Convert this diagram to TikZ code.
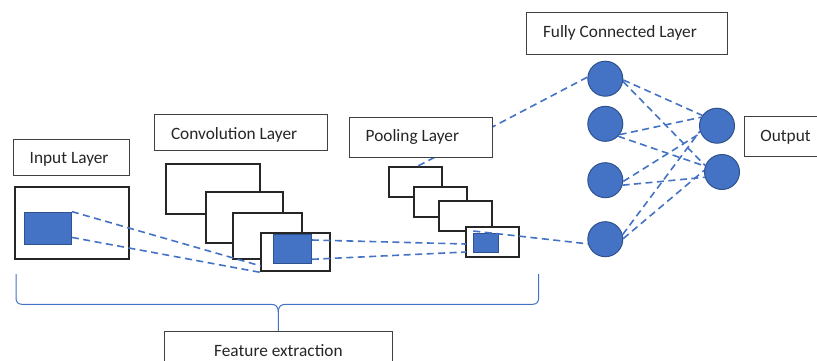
\documentclass[tikz,border=0pt]{standalone}
\usepackage{fontspec}
\setmainfont{Carlito}
\usetikzlibrary{calc,fit}
\definecolor{accent}{HTML}{4472C4}
\definecolor{accentdark}{HTML}{2F528F}
\definecolor{ink}{HTML}{262626}
\definecolor{frame}{HTML}{404040}

\begin{document}
\begin{tikzpicture}[x=1pt,y=-1pt,
  labelbox/.style={draw=frame, line width=1pt, fill=white, inner sep=0pt},
  layerbox/.style={draw=ink, line width=2pt, fill=white, inner sep=0pt},
  patch/.style={draw=accentdark, line width=0.8pt, fill=accent, inner sep=0pt},
  neuron/.style={circle, draw=accentdark, line width=1pt, fill=accent, minimum size=35pt, inner sep=0pt},
  link/.style={draw=accent, line width=1.6pt, dash pattern=on 7pt off 4.5pt},
  caption/.style={anchor=base west, font=\fontsize{17.3}{20}\selectfont, text=ink, inner sep=0pt},
  bracket/.style={draw=accent, line width=1pt}
]
\useasboundingbox (0,0) rectangle (817,360);
\clip (0,0) rectangle (817,360);

% input image with its receptive patch
\node[layerbox, fit={(15,186.7) (129.3,259.3)}] (inbox) {};
\node[patch, fit={(24.3,212) (71.5,244)}] (inpatch) {};

% stacked convolution feature maps
\node[layerbox, fit={(166.4,164.3) (259.6,214.3)}] (c1) {};
\node[layerbox, fit={(206,192.3) (283.2,243.3)}] (c2) {};
\node[layerbox, fit={(233,213) (301.8,259)}] (c3) {};
\node[layerbox, fit={(261,232.5) (330.4,271.3)}] (c4) {};
\node[patch, fit={(273.3,234) (311.8,263.7)}] (cpatch) {};

% stacked pooled maps
\node[layerbox, fit={(388.5,167) (441.8,197)}] (p1) {};
\node[layerbox, fit={(414.2,187.3) (467,217.3)}] (p2) {};
\node[layerbox, fit={(439.3,201.2) (492.4,230.8)}] (p3) {};
\node[layerbox, fit={(466,227.3) (518.5,257.3)}] (p4) {};
\node[patch, fit={(473.3,233.7) (498.2,252.3)}] (ppatch) {};

% fully connected and output neurons
\node[neuron] (f1) at (605.3,78.7) {};
\node[neuron] (f2) at (605.3,123.8) {};
\node[neuron] (f3) at (605.3,180.2) {};
\node[neuron] (f4) at (605.3,239.2) {};
\node[neuron] (o1) at (717,125.7) {};
\node[neuron] (o2) at (722,172) {};

% end points of the dashed projections
\coordinate (c4top) at (261,266);
\coordinate (p4top) at (466,244);
\coordinate (p4bot) at (466,252);
\coordinate (cout1) at (311.8,240);
\coordinate (cout2) at (311.8,259.3);
\coordinate (pout) at (473.3,231);
\coordinate (p1hit) at (418,166);

% projections between the stages
\draw[link] (inpatch.north east) -- (c4top);
\draw[link] ($(inpatch.south east)+(0,-7)$) -- (c4.south west);
\draw[link] (cout1) -- (p4top);
\draw[link] (cout2) -- (p4bot);
\draw[link] (pout) -- (f4.195);
\draw[link] (f1.175) -- (p1hit);

% dense connections to the outputs
\draw[link] (f1.-4)  -- (o1.145);
\draw[link] (f1.-9)  -- (o2.159);
\draw[link] (f2.-37) -- (o1.152);
\draw[link] (f2.-44) -- (o2.161);
\draw[link] (f3.-4)  -- (o1.204);
\draw[link] (f3.-16) -- (o2.197);
\draw[link] (f4.15)  -- (o1.198);
\draw[link] (f4.2)   -- (o2.175);

% captions
\node[labelbox, fit={(13,139.3) (129.3,175)}] (inlab) {};
\node[caption] (inlabtxt) at ($(inlab.north west)+(17,25)$) {Input Layer};
\node[labelbox, fit={(154.3,114.7) (327,150.7)}] (convlab) {};
\node[caption] (convlabtxt) at ($(convlab.north west)+(17,25)$) {Convolution Layer};
\node[labelbox, fit={(349,117) (492,157)}] (poollab) {};
\node[caption] (poollabtxt) at ($(poollab.north west)+(17,25)$) {Pooling Layer};
\node[labelbox, fit={(526.3,12.7) (727.3,54.3)}] (fclab) {};
\node[caption] (fclabtxt) at ($(fclab.north west)+(17,25)$) {Fully Connected Layer};
\node[labelbox, fit={(744,116.7) (840,156.7)}] (outlab) {};
\node[caption] (outlabtxt) at ($(outlab.north west)+(16.7,25)$) {Output};
\node[labelbox, fit={(164.3,331.7) (392.5,380)}] (featlab) {};
\node[caption, anchor=base] (featlabtxt) at (278.4,356.7) {Feature extraction};

% brace grouping the feature extraction stages
\draw[bracket] (16,274) -- (16,298) .. controls (16,302) and (18,304.3) .. (22,304.3)
  -- (270,304.3) .. controls (276,304.3) and (278.3,306) .. (278.3,313) -- (featlab.north);
\draw[bracket] (538.6,274) -- (538.6,298) .. controls (538.6,302) and (536.6,304.3) .. (532.6,304.3)
  -- (286.6,304.3) .. controls (280.6,304.3) and (278.3,306) .. (278.3,313);
\end{tikzpicture}
\end{document}
